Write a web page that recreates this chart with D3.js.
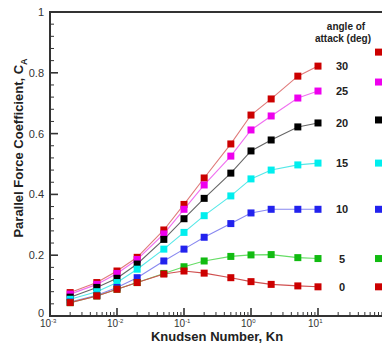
<!DOCTYPE html>
<html>
<head>
<meta charset="utf-8">
<script src="https://cdn.jsdelivr.net/npm/d3@7"></script>
<style>
  body { margin: 0; background: #fff; }
  svg { display: block; font-family: "Liberation Sans", Arial, sans-serif; }
</style>
</head>
<body>
<svg id="chart" width="382" height="349"></svg>
<script>
// Knudsen numbers sampled
const knudsen = [0.002, 0.005, 0.01, 0.02, 0.05, 0.1, 0.2, 0.5, 1, 2, 5, 10];
// angle of attack (deg)
const angles = [30, 25, 20, 15, 10, 5, 0];
const colors = ["#cc0000", "#ee00ee", "#000000", "#00eeee", "#2222ee", "#11bb11", "#cc0000"];
const lineColors = ["#e07a7a", "#f070f0", "#666666", "#55e8e8", "#8888f0", "#66dd66", "#d05050"];

const ca30 = [0.077, 0.110, 0.148, 0.193, 0.283, 0.367, 0.454, 0.566, 0.661, 0.714, 0.789, 0.822];
const ca25 = [0.072, 0.104, 0.140, 0.186, 0.270, 0.351, 0.431, 0.526, 0.612, 0.658, 0.717, 0.740];
const ca20 = [0.062, 0.094, 0.124, 0.171, 0.252, 0.320, 0.387, 0.470, 0.543, 0.579, 0.622, 0.635];
const ca15 = [0.055, 0.080, 0.110, 0.154, 0.220, 0.275, 0.330, 0.395, 0.451, 0.480, 0.497, 0.503];
const ca10 = [0.046, 0.068, 0.094, 0.126, 0.181, 0.220, 0.259, 0.304, 0.339, 0.351, 0.351, 0.351];
const ca5  = [0.044, 0.066, 0.088, 0.110, 0.140, 0.162, 0.181, 0.196, 0.201, 0.202, 0.192, 0.189];
const ca0  = [0.044, 0.066, 0.088, 0.110, 0.138, 0.148, 0.141, 0.126, 0.113, 0.104, 0.099, 0.096];
const series = [ca30, ca25, ca20, ca15, ca10, ca5, ca0];

const xDecades = [-3, -2, -1, 0, 1];
const yTicks = [0, 0.2, 0.4, 0.6, 0.8, 1];

const svg = d3.select("#chart");
const x = d3.scaleLog().domain([1e-3, 1e2]).range([50, 385]);
const y = d3.scaleLinear().domain([0, 1]).range([316, 12]);

const axisColor = "#333";
const textColor = "#333";

// frame
svg.append("line").attr("x1", 50).attr("x2", 385).attr("y1", y(1)).attr("y2", y(1))
  .attr("stroke", axisColor).attr("stroke-width", 2);
svg.append("line").attr("x1", 50).attr("x2", 385).attr("y1", y(0)).attr("y2", y(0))
  .attr("stroke", axisColor).attr("stroke-width", 2);
svg.append("line").attr("x1", 50).attr("x2", 50).attr("y1", y(0) + 1).attr("y2", y(1) - 1)
  .attr("stroke", axisColor).attr("stroke-width", 2);

// y ticks
const isMajor = d => yTicks.some(t => Math.abs(t - d) < 1e-6);
const yMinor = d3.range(0, 1.0001, 0.04);
svg.append("g").selectAll("line").data(yMinor).join("line")
  .attr("x1", 50).attr("x2", d => isMajor(d) ? 58 : 54)
  .attr("y1", d => y(d)).attr("y2", d => y(d))
  .attr("stroke", axisColor).attr("stroke-width", d => isMajor(d) ? 1.6 : 1);
svg.append("g").selectAll("text").data(yTicks).join("text")
  .attr("x", 44).attr("y", d => d === 0 ? y(d) + 1 : y(d) + 4)
  .attr("text-anchor", "end").attr("font-size", 11).attr("fill", textColor)
  .text(d => d3.format("~g")(d));

// x ticks
const xMinor = [];
xDecades.forEach(e => { for (let k = 2; k <= 9; k++) xMinor.push(k * Math.pow(10, e)); });
svg.append("g").selectAll("line").data(xMinor).join("line")
  .attr("x1", d => x(d)).attr("x2", d => x(d))
  .attr("y1", y(0)).attr("y2", y(0) - 4)
  .attr("stroke", axisColor).attr("stroke-width", 1);
svg.append("g").selectAll("line").data(xDecades).join("line")
  .attr("x1", d => x(Math.pow(10, d))).attr("x2", d => x(Math.pow(10, d)))
  .attr("y1", y(0)).attr("y2", y(0) - 8)
  .attr("stroke", axisColor).attr("stroke-width", 1.6);
const xl = svg.append("g").selectAll("text").data(xDecades).join("text")
  .attr("x", d => x(Math.pow(10, d)) - 10).attr("y", 327)
  .attr("text-anchor", "start").attr("font-size", 10).attr("fill", textColor);
xl.append("tspan").text("10");
xl.append("tspan").attr("dy", -4).attr("font-size", 6).text(d => d);

// lines and markers
const line = d3.line().x((d, i) => x(knudsen[i])).y(d => y(d));
series.forEach((s, k) => {
  svg.append("path").datum(s).attr("d", line)
    .attr("fill", "none").attr("stroke", lineColors[k]).attr("stroke-width", 1.1);
});
series.forEach((s, k) => {
  svg.append("g").selectAll("rect").data(s).join("rect")
    .attr("x", (d, i) => x(knudsen[i]) - 3.5).attr("y", d => y(d) - 3.5)
    .attr("width", 7).attr("height", 7).attr("fill", colors[k]);
});

// legend
svg.append("text").attr("x", 346).attr("y", 30).attr("text-anchor", "middle")
  .attr("font-size", 10).attr("font-weight", "bold").attr("fill", "#222").text("angle of");
svg.append("text").attr("x", 343).attr("y", 42).attr("text-anchor", "middle")
  .attr("font-size", 10).attr("font-weight", "bold").attr("fill", "#222").text("attack (deg)");
const legendMarkerShift = [-14, -9, -3, 0, 0, 0, 0];
angles.forEach((a, k) => {
  const yl = y(series[k][series[k].length - 1]);
  svg.append("text").attr("x", 342).attr("y", yl + 4).attr("text-anchor", "middle")
    .attr("font-size", 11).attr("font-weight", "bold").attr("fill", "#222").text(a);
  svg.append("rect").attr("x", 375).attr("y", yl + legendMarkerShift[k] - 3.5)
    .attr("width", 7).attr("height", 7).attr("fill", colors[k]);
});

// axis titles
svg.append("text").attr("x", 217).attr("y", 341).attr("text-anchor", "middle")
  .attr("font-size", 13).attr("font-weight", "bold").attr("fill", "#222")
  .text("Knudsen Number, Kn");
const yt = svg.append("text").attr("transform", "translate(23,148) rotate(-90)")
  .attr("text-anchor", "middle").attr("font-size", 13).attr("font-weight", "bold").attr("fill", "#222");
yt.append("tspan").text("Parallel Force Coefficient, C");
yt.append("tspan").attr("dy", 4).attr("font-size", 9).text("A");
</script>
</body>
</html>
